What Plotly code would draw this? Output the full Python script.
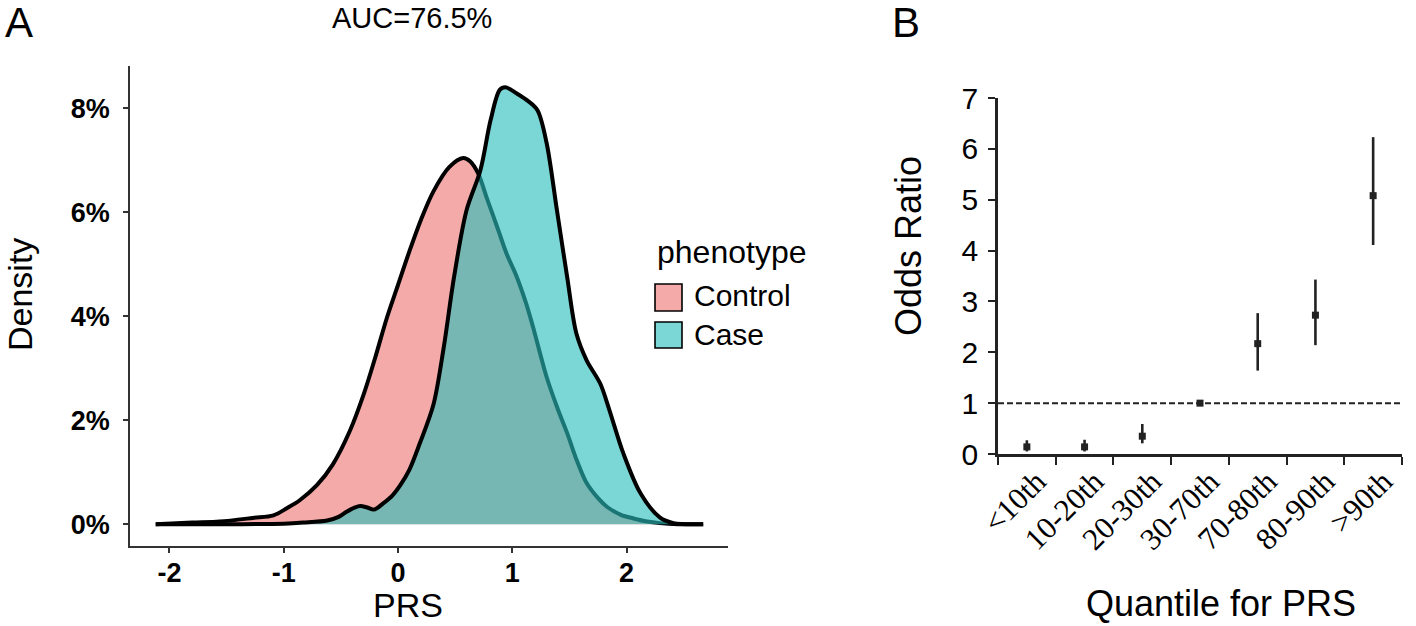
import plotly.graph_objects as go

W, H = 1416, 626

# ---------------- Panel A data (density, % per PRS unit) ----------------
control_x = [-2.12, -1.8, -1.56, -1.27, -1.09, -0.97, -0.86, -0.71, -0.57, -0.42, -0.3, -0.2, -0.1,
             0.0, 0.1, 0.2, 0.31, 0.45, 0.57, 0.63, 0.70, 0.78, 0.87, 0.95, 1.04, 1.12, 1.18, 1.30, 1.40,
             1.48, 1.56, 1.65, 1.75, 1.83, 1.95, 2.06, 2.18, 2.29, 2.45, 2.67]
control_y = [0.0, 0.03, 0.05, 0.12, 0.17, 0.31, 0.46, 0.75, 1.15, 1.8, 2.5, 3.2, 3.95,
             4.6, 5.25, 5.85, 6.4, 6.87, 7.04, 6.98, 6.75, 6.25, 5.7, 5.2, 4.75, 4.25, 3.8, 2.83, 2.2,
             1.75, 1.25, 0.79, 0.5, 0.33, 0.18, 0.11, 0.05, 0.02, 0.0, 0.0]

case_x = [-2.12, -1.41, -1.0, -0.83, -0.62, -0.52, -0.45, -0.38, -0.33, -0.27, -0.21, -0.13, -0.05, 0.02,
          0.1, 0.19, 0.31, 0.40, 0.49, 0.60, 0.72, 0.81, 0.89, 0.94, 1.04, 1.13, 1.22, 1.30, 1.39, 1.48,
          1.56, 1.65, 1.77, 1.85, 1.97, 2.12, 2.29, 2.41, 2.67]
case_y = [0.0, 0.0, 0.01, 0.03, 0.07, 0.14, 0.24, 0.32, 0.35, 0.32, 0.28, 0.4, 0.55, 0.75,
          1.05, 1.55, 2.3, 3.4, 4.75, 6.04, 6.8, 7.77, 8.35, 8.4, 8.28, 8.15, 7.96, 7.33, 6.04, 4.75,
          3.67, 3.15, 2.7, 2.19, 1.37, 0.6, 0.13, 0.02, 0.0]

density_ticks = [0, 2, 4, 6, 8]
density_labels = ["0%", "2%", "4%", "6%", "8%"]
prs_ticks = [-2, -1, 0, 1, 2]
prs_labels = ["-2", "-1", "0", "1", "2"]
auc_text = "AUC=76.5%"
group_names = ["Control", "Case"]

# ---------------- Panel B data (odds ratios) ----------------
quantiles = ["<10th", "10-20th", "20-30th", "30-70th", "70-80th", "80-90th", ">90th"]
odds_ratio = [0.14, 0.14, 0.35, 1.0, 2.17, 2.73, 5.08]
ci_lower = [0.05, 0.05, 0.21, 1.0, 1.64, 2.14, 4.11]
ci_upper = [0.27, 0.28, 0.59, 1.0, 2.77, 3.43, 6.23]
or_ticks = [0, 1, 2, 3, 4, 5, 6, 7]

# ---------------- styling ----------------
pink_fill = "#F4AAA8"
case_fill = "rgba(40,190,187,0.62)"
case_legend = "#7AD7D5"
SANS = "Liberation Sans"
SERIF = "Liberation Serif"


def px_x(p):
    return p / W


def px_y(p):
    return 1 - p / H


fig = go.Figure()

fig.add_trace(go.Scatter(
    x=control_x, y=control_y, mode="lines", fill="tozeroy", fillcolor=pink_fill,
    line=dict(color="black", width=4, shape="spline", smoothing=0.9),
    name=group_names[0], showlegend=False, xaxis="x", yaxis="y", hoverinfo="skip"))
fig.add_trace(go.Scatter(
    x=case_x, y=case_y, mode="lines", fill="tozeroy", fillcolor=case_fill,
    line=dict(color="black", width=4, shape="spline", smoothing=0.9),
    name=group_names[1], showlegend=False, xaxis="x", yaxis="y", hoverinfo="skip"))

err_plus = [u - m for u, m in zip(ci_upper, odds_ratio)]
err_minus = [m - l for m, l in zip(odds_ratio, ci_lower)]
fig.add_trace(go.Scatter(
    x=quantiles, y=odds_ratio, mode="markers",
    marker=dict(symbol="square", size=7, color="#222222"),
    error_y=dict(type="data", array=err_plus, arrayminus=err_minus, visible=True,
                 color="#222222", thickness=2.6, width=0),
    showlegend=False, xaxis="x2", yaxis="y2"))

# reference line OR = 1
fig.add_shape(type="line", xref="x2 domain", yref="y2", x0=0, x1=1, y0=1, y1=1,
              line=dict(color="#222222", width=2, dash="6px,3px"), layer="below")

# manual legend for panel A
legend_boxes = [(284, 311, pink_fill), (322, 348, case_legend)]
for (t, b, c) in legend_boxes:
    fig.add_shape(type="rect", xref="paper", yref="paper",
                  x0=px_x(655), x1=px_x(682), y0=px_y(b), y1=px_y(t),
                  fillcolor=c, line=dict(color="black", width=1.6))

annos = [
    dict(text="phenotype", x=px_x(655), y=px_y(252), xanchor="left", yanchor="middle",
         font=dict(family=SANS, size=32, color="black")),
    dict(text=group_names[0], x=px_x(692), y=px_y(296), xanchor="left", yanchor="middle",
         font=dict(family=SANS, size=30, color="black")),
    dict(text=group_names[1], x=px_x(692), y=px_y(334), xanchor="left", yanchor="middle",
         font=dict(family=SANS, size=30, color="black")),
    dict(text="A", x=px_x(19), y=px_y(23), xanchor="center", yanchor="middle",
         font=dict(family=SANS, size=42, color="black")),
    dict(text="B", x=px_x(906), y=px_y(23), xanchor="center", yanchor="middle",
         font=dict(family=SANS, size=42, color="black")),
    dict(text=auc_text, x=px_x(412), y=px_y(18), xanchor="center", yanchor="middle",
         font=dict(family=SANS, size=29, color="black")),
    dict(text="Density", x=px_x(20), y=px_y(295), xanchor="center", yanchor="middle", textangle=-90,
         font=dict(family=SANS, size=34, color="black")),
    dict(text="PRS", x=px_x(408), y=px_y(605), xanchor="center", yanchor="middle",
         font=dict(family=SANS, size=34, color="black")),
    dict(text="Odds Ratio", x=px_x(908), y=px_y(246), xanchor="center", yanchor="middle", textangle=-90,
         font=dict(family=SANS, size=36, color="black")),
    dict(text="Quantile for PRS", x=px_x(1221), y=0, xanchor="center", yanchor="bottom",
         font=dict(family=SANS, size=36, color="black")),
]
for a in annos:
    a.update(xref="paper", yref="paper", showarrow=False)
fig.update_layout(annotations=annos)

axis_common = dict(showgrid=False, zeroline=False, automargin=False, showline=True, ticks="outside")

fig.update_layout(
    template="none",
    width=W, height=H,
    margin=dict(l=0, r=0, t=0, b=0, autoexpand=False),
    paper_bgcolor="white", plot_bgcolor="white",
    showlegend=False,
    xaxis=dict(domain=[px_x(130), px_x(728)], range=[-2.345, 2.887], tickmode="array",
               tickvals=prs_ticks, ticktext=prs_labels,
               ticklen=5, tickwidth=1.5, tickcolor="#333333",
               linewidth=1.8, linecolor="#333333",
               tickfont=dict(family=SANS, size=27, color="black", weight="bold"),
               ticklabelstandoff=-3, anchor="y", **axis_common),
    yaxis=dict(domain=[px_y(546), px_y(66)], range=[-0.42, 8.81], tickmode="array",
               tickvals=density_ticks, ticktext=density_labels,
               ticklen=5, tickwidth=1.5, tickcolor="#333333",
               linewidth=1.8, linecolor="#333333",
               tickfont=dict(family=SANS, size=27, color="black", weight="bold"),
               ticklabelstandoff=8, anchor="x", **axis_common),
    xaxis2=dict(domain=[px_x(998), px_x(1402)], type="category", categoryorder="array",
                categoryarray=quantiles, range=[-0.5, 6.5], tickson="boundaries",
                ticklen=8, tickwidth=2, tickcolor="#222222",
                linewidth=2.6, linecolor="#222222",
                tickangle=-45, tickfont=dict(family=SERIF, size=31, color="black"), anchor="y2",
                ticklabelshift=10, ticklabelstandoff=-6, **axis_common),
    yaxis2=dict(domain=[px_y(454), px_y(98)], range=[0, 7], tickmode="array", tickvals=or_ticks,
                ticklen=7, tickwidth=2, tickcolor="#222222",
                linewidth=2.6, linecolor="#222222",
                tickfont=dict(family=SANS, size=30, color="black"), ticklabelstandoff=4, anchor="x2",
                **axis_common),
)

fig.write_html("out.html", config={"displayModeBar": False},
               post_script="document.body.style.margin='0px';")
